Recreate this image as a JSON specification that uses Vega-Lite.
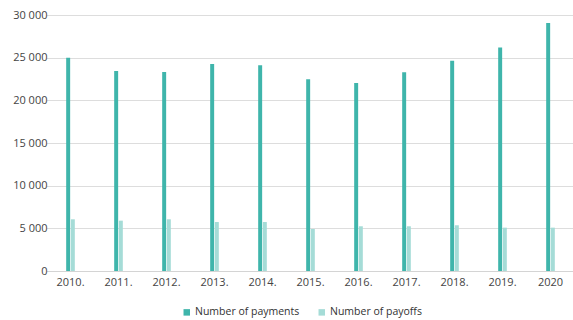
{
  "$schema": "https://vega.github.io/schema/vega-lite/v6.json",
  "autosize": {"type": "none"},
  "padding": {"left": 46.5, "top": 15, "right": 0, "bottom": 49},
  "width": 528,
  "height": 256,
  "background": "white",
  "config": {
    "font": "Open Sans",
    "view": {"stroke": null}
  },
  "data": {
    "values": [
      {"year": "2010.", "series": "Number of payments", "value": 24980},
      {"year": "2011.", "series": "Number of payments", "value": 23450},
      {"year": "2012.", "series": "Number of payments", "value": 23330},
      {"year": "2013.", "series": "Number of payments", "value": 24250},
      {"year": "2014.", "series": "Number of payments", "value": 24100},
      {"year": "2015.", "series": "Number of payments", "value": 22470},
      {"year": "2016.", "series": "Number of payments", "value": 22040},
      {"year": "2017.", "series": "Number of payments", "value": 23290},
      {"year": "2018.", "series": "Number of payments", "value": 24650},
      {"year": "2019.", "series": "Number of payments", "value": 26180},
      {"year": "2020", "series": "Number of payments", "value": 29070},
      {"year": "2010.", "series": "Number of payoffs", "value": 6060},
      {"year": "2011.", "series": "Number of payoffs", "value": 5900},
      {"year": "2012.", "series": "Number of payoffs", "value": 6060},
      {"year": "2013.", "series": "Number of payoffs", "value": 5740},
      {"year": "2014.", "series": "Number of payoffs", "value": 5740},
      {"year": "2015.", "series": "Number of payoffs", "value": 4920},
      {"year": "2016.", "series": "Number of payoffs", "value": 5240},
      {"year": "2017.", "series": "Number of payoffs", "value": 5240},
      {"year": "2018.", "series": "Number of payoffs", "value": 5360},
      {"year": "2019.", "series": "Number of payoffs", "value": 5080},
      {"year": "2020", "series": "Number of payoffs", "value": 5080}
    ]
  },
  "mark": {"type": "bar"},
  "encoding": {
    "x": {
      "field": "year",
      "type": "nominal",
      "sort": null,
      "scale": {"paddingInner": 0.82, "paddingOuter": 0.41},
      "axis": {
        "title": null,
        "labelAngle": 0,
        "labelFontSize": 11,
        "labelColor": "#444444",
        "labelPadding": 5,
        "ticks": false,
        "domainColor": "#d4d4d4",
        "domainWidth": 1,
        "grid": false
      }
    },
    "xOffset": {
      "field": "series",
      "type": "nominal",
      "scale": {"paddingInner": 0.15}
    },
    "y": {
      "field": "value",
      "type": "quantitative",
      "scale": {"domain": [0, 30000]},
      "axis": {
        "title": null,
        "values": [0, 5000, 10000, 15000, 20000, 25000, 30000],
        "labelExpr": "replace(format(datum.value, ','), ',', ' ')",
        "labelFontSize": 11,
        "labelColor": "#444444",
        "labelPadding": 12,
        "offset": -12.5,
        "ticks": false,
        "domain": false,
        "grid": true,
        "gridColor": "#dddddd",
        "gridWidth": 1
      }
    },
    "color": {
      "field": "series",
      "type": "nominal",
      "scale": {
        "domain": ["Number of payments", "Number of payoffs"],
        "range": ["#3fb5ab", "#a5dcd7"]
      },
      "legend": {
        "title": null,
        "orient": "none",
        "direction": "horizontal",
        "legendX": 135,
        "legendY": 292,
        "symbolType": "square",
        "symbolSize": 42,
        "symbolStrokeWidth": 0,
        "labelFontSize": 10.5,
        "labelOffset": 3,
        "labelColor": "#333333",
        "columnPadding": 17,
        "padding": 0
      }
    }
  }
}
